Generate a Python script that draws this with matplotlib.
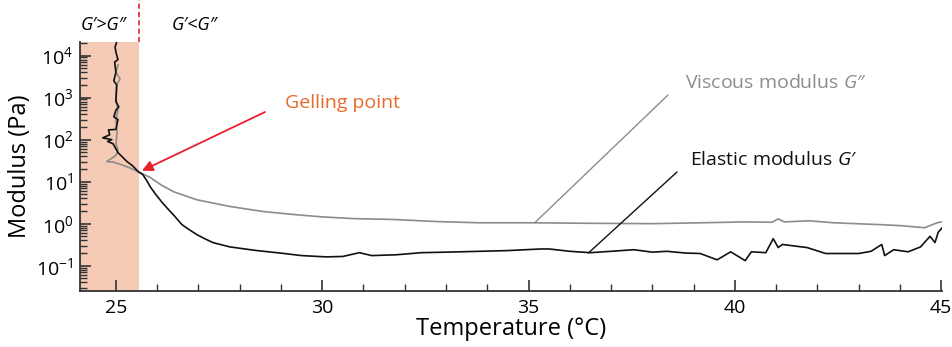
import matplotlib
matplotlib.use("Agg")
import matplotlib.pyplot as plt
from matplotlib.lines import Line2D
import matplotlib.transforms as mtransforms

plt.rcParams["font.family"] = ["Open Sans", "DejaVu Sans"]
plt.rcParams["mathtext.fontset"] = "custom"
plt.rcParams["mathtext.rm"] = "Open Sans"
plt.rcParams["mathtext.it"] = "Open Sans:italic"

# elastic modulus G' (Pa) vs temperature (C)
temp_elastic = [25.02, 24.98, 25.0, 25.05, 24.97, 25.0, 24.95, 25.02, 25.0, 25.07,
                25.0, 24.95, 25.05, 25.0, 24.82, 24.85, 24.68, 24.9, 24.8, 24.93,
                25.05, 25.27, 25.4, 25.55, 25.65, 25.75, 25.83, 25.95, 26.12, 26.25,
                26.4, 26.6, 26.75, 26.96, 27.15, 27.35, 27.76, 28.4, 28.98, 29.5,
                30.1, 30.5, 30.9, 31.2, 31.8, 32.4, 33.35, 34.5, 35.3, 35.5,
                36.0, 36.5, 37.0, 37.55, 38.0, 38.35, 38.8, 39.16, 39.57, 39.9,
                40.25, 40.4, 40.75, 40.93, 41.05, 41.15, 41.75, 42.2, 43.0, 43.3,
                43.56, 43.63, 43.85, 44.2, 44.5, 44.73, 44.85, 44.93, 45.02]
g_elastic = [2.1e4, 1.6e4, 1.2e4, 8e3, 7e3, 4e3, 2.5e3, 2e3, 8e2, 6e2,
             5e2, 3.5e2, 3e2, 1.75e2, 1.7e2, 1.3e2, 1.1e2, 1.0e2, 9e1, 8e1,
             4.9e1, 3.0e1, 2.4e1, 17, 14.8, 10.5, 7.6, 5.2, 3.2, 2.3,
             1.6, 0.95, 0.75, 0.55, 0.44, 0.355, 0.28, 0.23, 0.2, 0.174,
             0.162, 0.166, 0.204, 0.174, 0.182, 0.204, 0.214, 0.229, 0.25, 0.25,
             0.22, 0.204, 0.22, 0.24, 0.21, 0.22, 0.2, 0.195, 0.138, 0.214,
             0.132, 0.214, 0.204, 0.44, 0.27, 0.32, 0.27, 0.195, 0.195, 0.22,
             0.32, 0.174, 0.24, 0.214, 0.28, 0.5, 0.355, 0.63, 0.79]

# viscous modulus G'' (Pa) vs temperature (C)
temp_viscous = [25.05, 25.0, 25.1, 25.02, 25.0, 25.05, 25.0, 25.03, 25.0, 25.05,
                25.0, 24.78, 24.95, 25.15, 25.35, 25.55, 25.83, 26.1, 26.4, 26.96,
                27.76, 28.56, 29.4, 30.0, 30.75, 31.7, 32.8, 33.8, 35.1, 36.5,
                38.0, 39.2, 40.25, 40.9, 41.05, 41.2, 41.8, 42.4, 43.5, 44.0,
                44.6, 44.9, 45.02]
g_viscous = [6e3, 4e3, 2.8e3, 2e3, 1e3, 5e2, 3e2, 1.5e2, 8e1, 5.5e1,
             4.2e1, 3.0e1, 2.9e1, 2.5e1, 2.1e1, 17, 12.6, 8.3, 5.75, 3.7,
             2.57, 1.95, 1.62, 1.45, 1.32, 1.26, 1.12, 1.05, 1.05, 1.02,
             1.0, 1.05, 1.1, 1.08, 1.3, 1.1, 1.17, 1.05, 0.95, 0.9,
             0.8, 1.05, 1.1]

gel_temp = 25.57
gel_modulus = 17
x_ticks = [25, 30, 35, 40, 45]

W, H = 953, 347
fig = plt.figure(figsize=(W / 100, H / 100), dpi=100)
ax = fig.add_axes([80 / W, 1 - 291 / H, 862 / W, 249 / H])

ax.axvspan(24.13, gel_temp, color="#f5cbb6", lw=0, zorder=0)
ax.plot(temp_viscous, g_viscous, color="#8c8c8c", lw=1.2, zorder=2)
ax.plot(temp_elastic, g_elastic, color="#111111", lw=1.2, zorder=3)

ax.set_yscale("log")
ax.set_xlim(24.13, 45.02)
ax.set_ylim(0.025, 2.1e4)
ax.set_xticks(x_ticks)
ax.set_xticks(range(25, 46), minor=True)

for side in ("top", "right"):
    ax.spines[side].set_visible(False)
for side in ("left", "bottom"):
    ax.spines[side].set_color("#333333")
    ax.spines[side].set_linewidth(1.3)
ax.tick_params(which="both", direction="in", color="#333333", labelsize=14)
ax.tick_params(which="major", length=8, width=1.2)
ax.tick_params(which="minor", length=5, width=1.0)
ax.tick_params(axis="x", pad=6)
ax.tick_params(axis="y", pad=5)

ax.set_xlabel("Temperature (°C)", fontsize=17, labelpad=0)
ax.set_ylabel("Modulus (Pa)", fontsize=17, labelpad=3)

# dashed red line above the shaded region
trans = mtransforms.blended_transform_factory(ax.transData, ax.transAxes)
ax.add_line(Line2D([gel_temp, gel_temp], [1.0, 1.17], transform=trans,
                   color="#e8202a", lw=1.2, ls=(0, (3, 2)), clip_on=False))

fig.text(104 / W, 1 - 25 / H, "G′>G″", style="italic", fontsize=13,
         ha="center", va="center")
fig.text(195 / W, 1 - 25 / H, "G′<G″", style="italic", fontsize=13,
         ha="center", va="center")

ax.annotate("", xy=(gel_temp, gel_modulus), xycoords="data",
            xytext=(265 / W, 1 - 112 / H), textcoords="figure fraction",
            arrowprops=dict(arrowstyle="-|>", color="#e8202a", lw=1.3,
                            mutation_scale=16, shrinkA=0, shrinkB=2))
fig.text(285 / W, 1 - 103 / H, "Gelling point", color="#e8692a",
         fontsize=14, va="center")

ax.annotate("", xy=(35.15, 1.05), xycoords="data",
            xytext=(668 / W, 1 - 95 / H), textcoords="figure fraction",
            arrowprops=dict(arrowstyle="-", color="#8c8c8c", lw=1.0,
                            shrinkA=0, shrinkB=0))
fig.text(685 / W, 1 - 83 / H, "Viscous modulus $G$″", color="#8c8c8c",
         fontsize=14, va="center")

ax.annotate("", xy=(36.45, 0.2), xycoords="data",
            xytext=(677 / W, 1 - 172 / H), textcoords="figure fraction",
            arrowprops=dict(arrowstyle="-", color="#111111", lw=1.0,
                            shrinkA=0, shrinkB=0))
fig.text(690 / W, 1 - 160 / H, "Elastic modulus $G$′", color="#111111",
         fontsize=14, va="center")

fig.savefig("out.png", dpi=100)
